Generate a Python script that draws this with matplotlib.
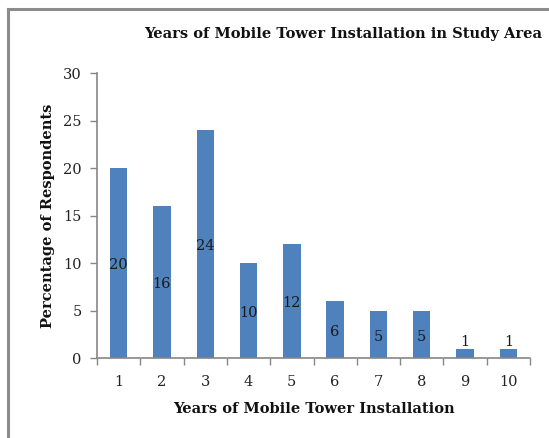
import matplotlib
matplotlib.use("Agg")
import matplotlib.pyplot as plt
from matplotlib.lines import Line2D

years = [1, 2, 3, 4, 5, 6, 7, 8, 9, 10]
percent = [20, 16, 24, 10, 12, 6, 5, 5, 1, 1]
yticks = [0, 5, 10, 15, 20, 25, 30]

title = "Years of Mobile Tower Installation in Study Area"
xlabel = "Years of Mobile Tower Installation"
ylabel = "Percentage of Respondents"

bar_color = "#4F81BD"
axis_color = "#868686"
serif = ["DejaVu Serif"]

fig = plt.figure(figsize=(5.49, 4.38), dpi=100)
ax = fig.add_axes([0.1767, 0.1826, 0.9654 - 0.1767, 0.8333 - 0.1826])

pos = list(range(len(years)))
ax.bar(pos, percent, width=0.4, color=bar_color, zorder=2)

for x, v in zip(pos, percent):
    ax.text(x, max(v / 2, 1.9) - 0.25, str(v), ha="center", va="center",
            fontsize=10.5, family=serif, color="#1a1a1a", zorder=3)

ax.set_xlim(-0.5, len(years) - 0.5)
ax.set_ylim(0, 30)
ax.set_yticks(yticks)
ax.set_yticklabels([str(t) for t in yticks], family=serif, fontsize=10.5)
ax.set_xticks(pos)
ax.set_xticklabels([str(y) for y in years], family=serif, fontsize=10.5)
ax.tick_params(axis="x", length=0, pad=12, colors="#222222")
ax.tick_params(axis="y", length=5, width=1, color=axis_color, pad=6, labelcolor="#222222")
# category boundary ticks below the x axis
ax.set_xticks([i - 0.5 for i in range(len(years) + 1)], minor=True)
ax.tick_params(axis="x", which="minor", length=5, width=1, color=axis_color)

for s in ("top", "right"):
    ax.spines[s].set_visible(False)
for s in ("left", "bottom"):
    ax.spines[s].set_color(axis_color)
    ax.spines[s].set_linewidth(1.2)

fig.text(0.625, 0.922, title, ha="center", va="center", family=serif,
         fontsize=10.5, fontweight="bold", color="#111111")
fig.text(0.572, 0.066, xlabel, ha="center", va="center", family=serif,
         fontsize=10.5, fontweight="bold", color="#111111")
fig.text(0.088, 0.508, ylabel, ha="center", va="center", rotation=90,
         family=serif, fontsize=10.5, fontweight="bold", color="#111111")

# chart frame (left and top edges)
fig.add_artist(Line2D([0.015, 0.015], [0.0, 0.979], color="#8c8c8c", lw=2.2))
fig.add_artist(Line2D([0.015, 1.0], [0.979, 0.979], color="#8c8c8c", lw=2.2))

fig.savefig("out.png", dpi=100, facecolor="white")
